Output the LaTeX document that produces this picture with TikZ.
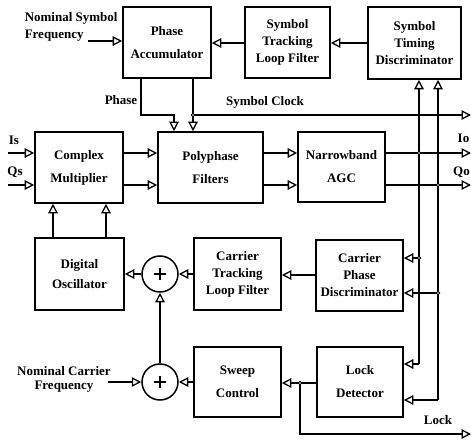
\documentclass[tikz,border=0pt]{standalone}
\usepackage{fontspec}
\setmainfont{Liberation Serif}
\usetikzlibrary{arrows.meta,calc}
\begin{document}
\begin{tikzpicture}[x=1pt,y=-1pt, line width=1.5pt,
  font=\bfseries\fontsize{13}{15}\selectfont,
  box/.style={draw, line width=1.6pt, align=center, inner sep=0pt},
  two/.style={font=\bfseries\fontsize{13}{23}\selectfont},
  three/.style={font=\bfseries\fontsize{13}{17}\selectfont},
  arr/.style={-{Triangle[open,length=9.5pt,width=9.5pt,line width=1.3pt]}},
  sum/.style={draw,circle,minimum size=36pt,inner sep=0pt,line width=1.5pt},
  dot/.style={circle,draw,fill=white,inner sep=0pt,minimum size=3.5pt,line width=1pt},
  lbl/.style={inner sep=0pt}
]
\useasboundingbox (0,0) rectangle (471,441);

% boxes
\node[box,two,minimum width=88pt,minimum height=71pt] (PA) at (167,42.5) {Phase\\Accumulator};
\node[box,three,minimum width=85pt,minimum height=71pt] (STLF) at (287.5,42.5) {Symbol\\Tracking\\Loop Filter};
\node[box,three,minimum width=93pt,minimum height=72pt] (STD) at (414.5,43) {Symbol\\Timing\\Discriminator};
\node[box,two,minimum width=88pt,minimum height=71pt] (CM) at (79,167.5) {Complex\\Multiplier};
\node[box,two,minimum width=105pt,minimum height=71pt] (PF) at (210.5,167.5) {Polyphase\\Filters};
\node[box,two,minimum width=87pt,minimum height=70pt] (NAGC) at (341.5,167) {Narrowband\\AGC};
\node[box,font=\bfseries\fontsize{13}{20}\selectfont,minimum width=89pt,minimum height=72pt] (DO) at (79.5,274) {Digital\\Oscillator};
\node[box,three,minimum width=87pt,minimum height=72pt] (CTLF) at (237.5,274) {Carrier\\Tracking\\Loop Filter};
\node[box,three,minimum width=87pt,minimum height=71pt] (CPD) at (359.5,275.5) {Carrier\\Phase\\Discriminator};
\node[box,two,minimum width=87pt,minimum height=70pt] (SC) at (237.5,382) {Sweep\\Control};
\node[box,two,minimum width=86pt,minimum height=70pt] (LD) at (360,382) {Lock\\Detector};
\node[sum] (S1) at (160,274) {};
\node[sum] (S2) at (160,382) {};
\draw[line width=1.8pt] ($(S1)+(-6,0)$) -- ($(S1)+(6,0)$) ($(S1)+(0,-6)$) -- ($(S1)+(0,6)$);
\draw[line width=1.8pt] ($(S2)+(-6,0)$) -- ($(S2)+(6,0)$) ($(S2)+(0,-6)$) -- ($(S2)+(0,6)$);

% labels
\node[lbl,anchor=west,align=left,font=\bfseries\fontsize{13}{17}\selectfont] (nsfl) at (24,27) {Nominal Symbol\\Frequency};
\node[lbl] (phl) at (121,100) {Phase};
\node[lbl] (scl) at (265,102) {Symbol Clock};
\node[lbl] (isl) at (14,140) {Is};
\node[lbl] (qsl) at (15,172) {Qs};
\node[lbl,anchor=east] (iol) at (470,138) {Io};
\node[lbl,anchor=east] (qol) at (470.5,172) {Qo};
\node[lbl,align=center,font=\bfseries\fontsize{13}{14}\selectfont] (ncfl) at (64,379) {Nominal Carrier\\Frequency};
\node[lbl] (lockl) at (438,420) {Lock};

% coordinates
\coordinate (nsf) at (88,41);
\coordinate (isin) at (8,153);
\coordinate (qsin) at (8,185);
\coordinate (ioout) at (471,153);
\coordinate (qoout) at (471,185);
\coordinate (scout) at (471,115);
\coordinate (sclk) at (193,115);
\coordinate (ncf) at (108,382);
\coordinate (jA) at (419,153);
\coordinate (jB) at (438,185);
\coordinate (jC) at (419,258);
\coordinate (jD) at (438,293);
\coordinate (jE) at (419,364);
\coordinate (jF) at (438,400);
\coordinate (jL) at (300,383);
\coordinate (lockout) at (471,434);

% symbol loop
\draw[arr] (nsf) -- (nsf -| PA.west);
\draw[arr] (STD.west |- 0,43) -- (STLF.east |- 0,43);
\draw[arr] (STLF.west |- 0,43) -- (PA.east |- 0,43);
\draw[arr] (PA.south -| 141,0) -- (141,115) -- (174,115) -- (PF.north -| 174,0);
\draw[arr] (PA.south -| sclk) -- (PF.north -| sclk);
\draw[arr] (sclk) -- (scout);

% signal path
\draw[arr] (isin) -- (isin -| CM.west);
\draw[arr] (qsin) -- (qsin -| CM.west);
\draw[arr] (CM.east |- isin) -- (PF.west |- isin);
\draw[arr] (CM.east |- qsin) -- (PF.west |- qsin);
\draw[arr] (PF.east |- isin) -- (NAGC.west |- isin);
\draw[arr] (PF.east |- qsin) -- (NAGC.west |- qsin);
\draw[arr] (NAGC.east |- ioout) -- (ioout);
\draw[arr] (NAGC.east |- qoout) -- (qoout);

% feedback verticals
\draw[arr] (jE) -- (STD.south -| jE);
\draw[arr] (jF) -- (STD.south -| jF);
\draw[arr] (jE) -- (jE -| LD.east);
\draw[arr] (jF) -- (jF -| LD.east);
\draw[arr] (jC) -- (jC -| CPD.east);
\draw[arr] (jD) -- (jD -| CPD.east);

% carrier loop
\draw[arr] (CPD.west |- 0,275) -- (CTLF.east |- 0,275);
\draw[arr] (CTLF.west |- S1.east) -- (S1.east);
\draw[arr] (S1.west) -- (DO.east |- S1.west);
\draw[arr] (DO.north -| 53,0) -- (CM.south -| 53,0);
\draw[arr] (DO.north -| 106,0) -- (CM.south -| 106,0);
\draw[arr] (S2.north) -- (S1.south);
\draw[arr] (ncf) -- (S2.west);
\draw[arr] (SC.west |- S2.east) -- (S2.east);
\draw[arr] (LD.west |- jL) -- (SC.east |- jL);
\draw[arr] (jL) -- (jL |- lockout) -- (lockout);

% junction dots
\foreach \p in {sclk,jA,jB,jC,jD,jL} \node[dot] at (\p) {};
\end{tikzpicture}
\end{document}
